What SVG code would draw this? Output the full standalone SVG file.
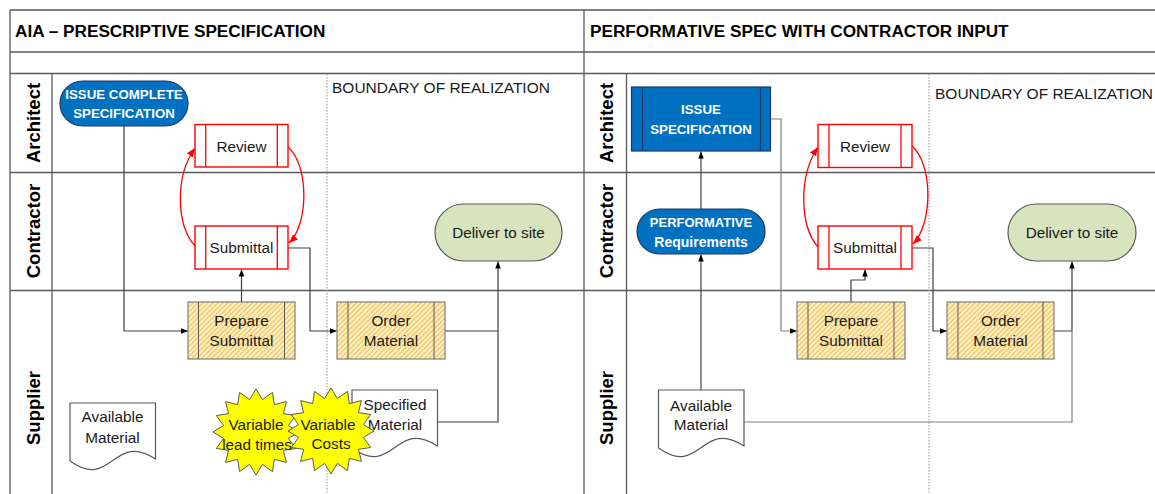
<svg xmlns="http://www.w3.org/2000/svg" xmlns:xlink="http://www.w3.org/1999/xlink" width="1155" height="494" viewBox="0 0 1155 494">
<style>
.grid{stroke:#595959;stroke-width:1.3;fill:none}
.dot{stroke:#a6a6a6;stroke-width:1.2;stroke-dasharray:1.5 1.5;fill:none}
.title{font-family:"Liberation Sans",Arial,sans-serif;font-weight:bold;font-size:17.2px;fill:#000}
.lane{font-family:"Liberation Sans",Arial,sans-serif;font-weight:bold;font-size:18.5px;fill:#000}
.t{font-family:"Liberation Sans",Arial,sans-serif;font-size:15.3px;fill:#1a1a1a;text-anchor:middle}
.bnd{font-family:"Liberation Sans",Arial,sans-serif;font-size:15.5px;fill:#1a1a1a}
.w{font-family:"Liberation Sans",Arial,sans-serif;font-weight:bold;font-size:13.3px;fill:#fff;text-anchor:middle}
.blue{fill:#0070C0;stroke:#1F3864;stroke-width:1.2}
.red{fill:#fff;stroke:#FF0000;stroke-width:1.4}
.redl{stroke:#FF0000;stroke-width:1.3;fill:none}
.hat{fill:url(#hatch);stroke:#7f7f7f;stroke-width:1.2}
.hatl{stroke:#595959;stroke-width:1;fill:none}
.green{fill:#D7E4BD;stroke:#595959;stroke-width:1.2}
.doc{fill:#fff;stroke:#595959;stroke-width:1.2}
.star{fill:#FFFF00;stroke:#595959;stroke-width:1}
.con{stroke:#404040;stroke-width:1.2;fill:none}
.con2{stroke:#7f7f7f;stroke-width:1.2;fill:none}
.arr{marker-end:url(#ab)}
.rarr{marker-end:url(#ar)}
</style>
<defs>
<marker id="ab" viewBox="0 0 10 10" refX="10" refY="5" markerWidth="7" markerHeight="7" markerUnits="userSpaceOnUse" orient="auto"><path d="M0,1 L10,5 L0,9 z" fill="#000"/></marker>
<marker id="ar" viewBox="0 0 10 10" refX="10" refY="5" markerWidth="9" markerHeight="9" markerUnits="userSpaceOnUse" orient="auto"><path d="M0,1 L10,5 L0,9 z" fill="#FF0000"/></marker>
<pattern id="hatch" width="3.5" height="3.5" patternUnits="userSpaceOnUse" patternTransform="rotate(45)"><rect width="3.5" height="3.5" fill="#FFF0C2"/><line x1="0.6" y1="0" x2="0.6" y2="3.5" stroke="#EDB84E" stroke-width="1"/></pattern>
<path id="docshape" d="M0,0 H85.5 V56 C43,28 42,88 0,58 Z"/>
<polygon id="starshape" points="43,0 32.4,6.4 39.7,16.5 27.4,18.3 30.4,30.4 18.3,27.4 16.5,39.7 6.4,32.4 0,43 -6.4,32.4 -16.5,39.7 -18.3,27.4 -30.4,30.4 -27.4,18.3 -39.7,16.5 -32.4,6.4 -43,0 -32.4,-6.4 -39.7,-16.5 -27.4,-18.3 -30.4,-30.4 -18.3,-27.4 -16.5,-39.7 -6.4,-32.4 0,-43 6.4,-32.4 16.5,-39.7 18.3,-27.4 30.4,-30.4 27.4,-18.3 39.7,-16.5 32.4,-6.4"/>
</defs>

<g id="frame">
<path class="grid" d="M10,10 H1155 M10,52 H1155 M10,73.5 H1155 M10,172.5 H1155 M10,290.5 H1155 M10,10 V494 M584,10 V494 M52,73.5 V494 M626.5,73.5 V494"/>
<path class="dot" d="M327,74 V494 M929,74 V494"/>
<text class="title" x="15" y="37">AIA – PRESCRIPTIVE SPECIFICATION</text>
<text class="title" x="590" y="37">PERFORMATIVE SPEC WITH CONTRACTOR INPUT</text>
<text class="lane" transform="translate(40,123) rotate(-90)" text-anchor="middle">Architect</text>
<text class="lane" transform="translate(40,231) rotate(-90)" text-anchor="middle">Contractor</text>
<text class="lane" transform="translate(40,408) rotate(-90)" text-anchor="middle">Supplier</text>
<text class="lane" transform="translate(613,123) rotate(-90)" text-anchor="middle">Architect</text>
<text class="lane" transform="translate(613,231) rotate(-90)" text-anchor="middle">Contractor</text>
<text class="lane" transform="translate(613,408) rotate(-90)" text-anchor="middle">Supplier</text>
<text class="bnd" x="332" y="93">BOUNDARY OF REALIZATION</text>
<text class="bnd" x="935" y="99">BOUNDARY OF REALIZATION</text>
</g>

<g id="connectors">
<path class="con arr" d="M124,126 V331 H188"/>
<path class="con arr" d="M241.5,302 V269.5"/>
<path class="con arr" d="M288,248 H310 V331 H337"/>
<path class="con arr" d="M445,331 H498 V261.5"/>
<path class="con" d="M437.5,422 H498 V331"/>
<path class="redl rarr" d="M195,246 C177,226 174,178 195,148"/>
<path class="redl rarr" d="M288,147 C309,165 309,224 289,243"/>
<path class="con arr" d="M701,390 V254.5"/>
<path class="con arr" d="M701,209 V151.5"/>
<path class="con2 arr" d="M771,119 H781 V331 H797"/>
<path class="con arr" d="M851,302 V280 H865 V269.5"/>
<path class="con arr" d="M912,248 H933 V331 H947"/>
<path class="con arr" d="M1054,331 H1072 V261.5"/>
<path class="con2" d="M744,422 H1072 V331"/>
<path class="redl rarr" d="M818,247 C800,226 798,177 818,147"/>
<path class="redl rarr" d="M912,146 C933,164 933,224 913,244"/>
</g>

<g id="issue-complete">
<rect class="blue" x="60" y="81" width="128" height="45" rx="22.5"/>
<text class="w" x="124" y="99">ISSUE COMPLETE</text>
<text class="w" x="124" y="118">SPECIFICATION</text>
</g>
<g id="review-l">
<rect class="red" x="195" y="124.5" width="93" height="42.5"/>
<path class="redl" d="M205.7,124.5 V167 M277.3,124.5 V167"/>
<text class="t" x="241.5" y="151.5">Review</text>
</g>
<g id="submittal-l">
<rect class="red" x="195" y="226" width="93" height="43"/>
<path class="redl" d="M205.7,226 V269 M277.3,226 V269"/>
<text class="t" x="241.5" y="252.5">Submittal</text>
</g>
<g id="prepare-l">
<rect class="hat" x="188" y="302" width="107" height="57"/>
<path class="hatl" d="M198.5,302 V359 M284.5,302 V359"/>
<text class="t" x="241.5" y="326">Prepare</text>
<text class="t" x="241.5" y="346">Submittal</text>
</g>
<g id="order-l">
<rect class="hat" x="337" y="302" width="108" height="57"/>
<path class="hatl" d="M348,302 V359 M434,302 V359"/>
<text class="t" x="391" y="326">Order</text>
<text class="t" x="391" y="346">Material</text>
</g>
<g id="deliver-l">
<rect class="green" x="435" y="204" width="127" height="57" rx="28.5"/>
<text class="t" x="498.5" y="238">Deliver to site</text>
</g>
<g id="available-l">
<use xlink:href="#docshape" class="doc" x="70" y="403"/>
<text class="t" x="112.5" y="422">Available</text>
<text class="t" x="112.5" y="442.5">Material</text>
</g>
<g id="specified-l">
<use xlink:href="#docshape" class="doc" x="352" y="390"/>
<text class="t" x="395" y="410">Specified</text>
<text class="t" x="395" y="430">Material</text>
</g>
<g id="star-lead">
<use xlink:href="#starshape" class="star" x="256" y="432"/>
<text class="t" x="256" y="430">Variable</text>
<text class="t" x="257" y="450">lead times</text>
</g>
<g id="star-costs">
<use xlink:href="#starshape" class="star" x="331" y="431"/>
<text class="t" x="328" y="430">Variable</text>
<text class="t" x="331" y="449">Costs</text>
</g>

<g id="issue-spec">
<rect class="blue" x="631.5" y="87" width="139" height="64"/>
<path stroke="#1F3864" stroke-width="1.2" d="M642.5,87 V151 M760.5,87 V151"/>
<text class="w" x="701" y="114">ISSUE</text>
<text class="w" x="701" y="133.5">SPECIFICATION</text>
</g>
<g id="performative">
<rect class="blue" x="637" y="209" width="128" height="45" rx="22.5"/>
<text class="w" x="701" y="227" style="font-size:13px">PERFORMATIVE</text>
<text class="w" x="701" y="246.5" style="font-size:14px">Requirements</text>
</g>
<g id="review-r">
<rect class="red" x="818" y="124.5" width="94" height="43"/>
<path class="redl" d="M829,124.5 V167.5 M901,124.5 V167.5"/>
<text class="t" x="865" y="151.5">Review</text>
</g>
<g id="submittal-r">
<rect class="red" x="818" y="226" width="94" height="43"/>
<path class="redl" d="M829,226 V269 M901,226 V269"/>
<text class="t" x="865" y="252.5">Submittal</text>
</g>
<g id="prepare-r">
<rect class="hat" x="797" y="302" width="108" height="57"/>
<path class="hatl" d="M808,302 V359 M894,302 V359"/>
<text class="t" x="851" y="326">Prepare</text>
<text class="t" x="851" y="346">Submittal</text>
</g>
<g id="order-r">
<rect class="hat" x="947" y="302" width="107" height="57"/>
<path class="hatl" d="M958,302 V359 M1043,302 V359"/>
<text class="t" x="1000.5" y="326">Order</text>
<text class="t" x="1000.5" y="346">Material</text>
</g>
<g id="deliver-r">
<rect class="green" x="1008" y="204" width="128" height="57" rx="28.5"/>
<text class="t" x="1072" y="238">Deliver to site</text>
</g>
<g id="available-r">
<use xlink:href="#docshape" class="doc" x="658.5" y="390"/>
<text class="t" x="701" y="410.5">Available</text>
<text class="t" x="701" y="430">Material</text>
</g>
</svg>
